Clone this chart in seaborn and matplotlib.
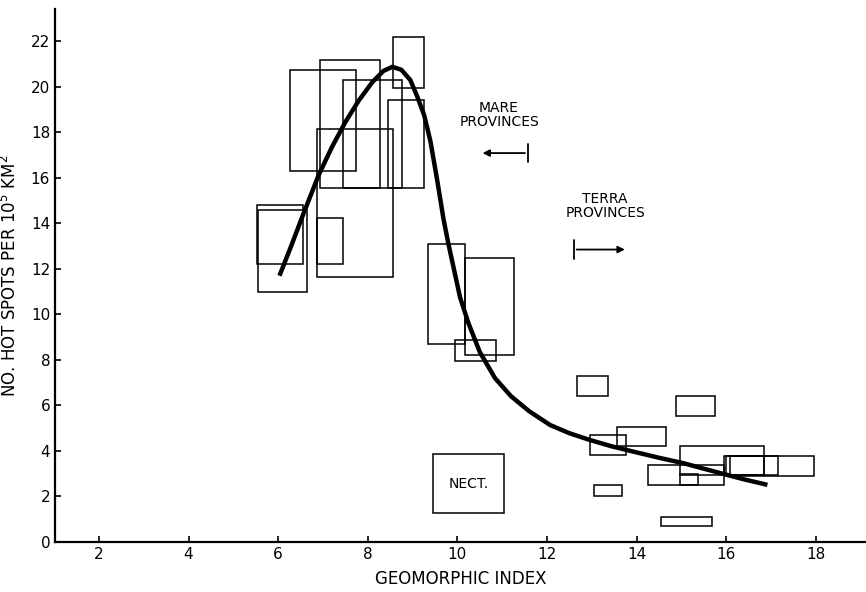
import pandas as pd
import seaborn as sns
import matplotlib.pyplot as plt
from matplotlib.patches import Rectangle

# fitted curve
curve_x = [6.03, 6.30, 6.56, 6.90, 7.20, 7.50, 7.80, 8.10, 8.35, 8.55, 8.75, 8.95,
           9.10, 9.26, 9.40, 9.55, 9.69, 9.80, 9.95, 10.06, 10.25, 10.50, 10.84,
           11.20, 11.60, 12.07, 12.50, 12.96, 13.45, 13.93, 14.50, 15.05, 15.50,
           15.94, 16.40, 16.92]
curve_y = [11.7, 13.05, 14.4, 16.1, 17.35, 18.45, 19.4, 20.2, 20.7, 20.88, 20.75, 20.3,
           19.6, 18.75, 17.6, 15.9, 14.2, 13.1, 11.75, 10.75, 9.6, 8.35, 7.2,
           6.4, 5.75, 5.14, 4.78, 4.48, 4.2, 3.97, 3.7, 3.46, 3.22,
           2.99, 2.75, 2.51]

# province boxes: x range (geomorphic index) and y range (hot spots)
box_x0 = [6.26, 6.94, 7.44, 8.57, 8.46, 6.86, 6.86, 5.53, 5.56,
          9.35, 10.16, 9.95,
          12.67, 14.87, 13.56, 12.95, 14.96, 15.95, 16.00, 16.09, 14.25, 14.96, 13.05, 14.54]
box_x1 = [7.74, 8.27, 8.76, 9.26, 9.26, 8.56, 7.45, 6.56, 6.65,
          10.17, 11.27, 10.86,
          13.37, 15.76, 14.65, 13.76, 16.85, 16.85, 17.15, 17.95, 15.96, 15.37, 13.67, 15.68]
box_y0 = [16.32, 15.55, 15.55, 19.94, 15.55, 11.66, 12.21, 12.21, 11.0,
          8.70, 8.22, 7.97,
          6.42, 5.54, 4.23, 3.81, 2.95, 2.95, 2.95, 2.90, 2.51, 2.51, 2.04, 0.70]
box_y1 = [20.75, 21.16, 20.31, 22.18, 19.43, 18.14, 14.25, 14.81, 14.59,
          13.09, 12.47, 8.88,
          7.31, 6.42, 5.07, 4.69, 4.23, 3.78, 3.78, 3.78, 3.40, 2.99, 2.51, 1.11]

# nectarian box
nect_x = [9.45, 11.04]
nect_y = [1.26, 3.85]

xticks = [2, 4, 6, 8, 10, 12, 14, 16, 18]
yticks = [0, 2, 4, 6, 8, 10, 12, 14, 16, 18, 20, 22]

sns.set_style("ticks")
plt.rcParams['font.family'] = ['DejaVu Sans']
plt.rcParams.update({'text.color': 'black', 'axes.labelcolor': 'black',
                     'xtick.color': 'black', 'ytick.color': 'black'})

fig = plt.figure(figsize=(8.66, 5.92), dpi=100)
ax = fig.add_axes([0.0635, 0.0845, 0.9365, 0.8995])

for x0, x1, y0, y1 in zip(box_x0, box_x1, box_y0, box_y1):
    ax.add_patch(Rectangle((x0, y0), x1 - x0, y1 - y0, fill=False,
                           edgecolor='black', linewidth=1.1))

ax.add_patch(Rectangle((nect_x[0], nect_y[0]), nect_x[1] - nect_x[0], nect_y[1] - nect_y[0],
                       fill=False, edgecolor='black', linewidth=1.1))
ax.text(sum(nect_x) / 2, sum(nect_y) / 2, 'NECT.', ha='center', va='center', fontsize=10)

df = pd.DataFrame({'x': curve_x, 'y': curve_y})
sns.lineplot(data=df, x='x', y='y', sort=False, estimator=None, color='black',
             linewidth=3.2, ax=ax, solid_joinstyle='round', solid_capstyle='butt')

# mare / terra annotations
ax.text(10.93, 18.75, 'MARE\nPROVINCES', ha='center', va='center', fontsize=10,
        linespacing=1.0)
ax.annotate('', xy=(10.5, 17.09), xytext=(11.57, 17.09),
            arrowprops=dict(arrowstyle='-|>', color='black', lw=1.3, mutation_scale=10))
ax.plot([11.57, 11.57], [16.7, 17.5], color='black', lw=1.3)

ax.text(13.3, 14.75, 'TERRA\nPROVINCES', ha='center', va='center', fontsize=10,
        linespacing=1.0)
ax.annotate('', xy=(13.8, 12.85), xytext=(12.6, 12.85),
            arrowprops=dict(arrowstyle='-|>', color='black', lw=1.3, mutation_scale=10))
ax.plot([12.6, 12.6], [12.45, 13.25], color='black', lw=1.3)

ax.set_xlim(1.02, 19.12)
ax.set_ylim(0, 23.4)
ax.set_xticks(xticks)
ax.set_yticks(yticks)
ax.tick_params(direction='in', length=4, width=1.2, labelsize=11, colors='black')
ax.set_xlabel('GEOMORPHIC INDEX', fontsize=12, labelpad=6)
ax.set_ylabel('NO. HOT SPOTS PER 10$^5$ KM$^2$', fontsize=12, labelpad=8)
sns.despine(ax=ax)
for s in ['left', 'bottom']:
    ax.spines[s].set_linewidth(1.6)
    ax.spines[s].set_color('black')

fig.savefig('out.png', dpi=100)
